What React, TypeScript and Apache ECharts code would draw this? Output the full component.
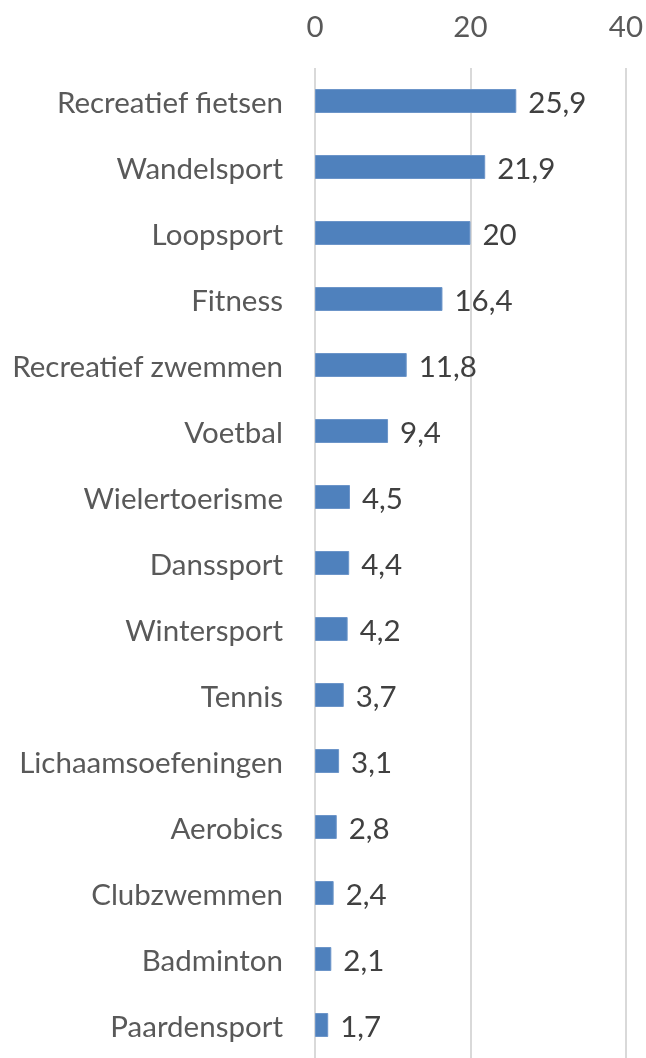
import React, { useEffect, useRef } from "react";
import * as echarts from "echarts";

const categories = [
  "Recreatief fietsen",
  "Wandelsport",
  "Loopsport",
  "Fitness",
  "Recreatief zwemmen",
  "Voetbal",
  "Wielertoerisme",
  "Danssport",
  "Wintersport",
  "Tennis",
  "Lichaamsoefeningen",
  "Aerobics",
  "Clubzwemmen",
  "Badminton",
  "Paardensport",
];
const values = [25.9, 21.9, 20, 16.4, 11.8, 9.4, 4.5, 4.4, 4.2, 3.7, 3.1, 2.8, 2.4, 2.1, 1.7];
const xTicks = [0, 20, 40];

const FONT = "Lato, 'Open Sans', sans-serif";
const FS = 29.5;

export default function App() {
  const ref = useRef<HTMLDivElement>(null);
  useEffect(() => {
    if (!ref.current) return;
    const chart = echarts.init(ref.current, null, { renderer: "svg" });
    chart.setOption({
      animation: false,
      grid: { left: 315, right: 19, top: 68, height: 992, containLabel: false },
      xAxis: {
        type: "value",
        position: "top",
        min: xTicks[0],
        max: xTicks[xTicks.length - 1],
        interval: xTicks[1] - xTicks[0],
        axisLine: { show: false },
        axisTick: { show: false },
        splitLine: { show: true, lineStyle: { color: "#D9D9D9", width: 2 } },
        axisLabel: {
          margin: 28,
          color: "#595959",
          fontSize: FS,
          fontFamily: FONT,
        },
      },
      yAxis: {
        type: "category",
        data: categories,
        inverse: true,
        axisLine: { show: false },
        axisTick: { show: false },
        axisLabel: {
          margin: 32,
          color: "#595959",
          fontSize: FS,
          fontFamily: FONT,
        },
      },
      series: [
        {
          type: "bar",
          data: values,
          barWidth: 24,
          itemStyle: { color: "#4F81BD", borderColor: "#6C95C9", borderWidth: 1 },
          label: {
            show: true,
            position: "right",
            distance: 12,
            color: "#404040",
            fontSize: FS,
            fontFamily: FONT,
            formatter: (p: any) => String(p.value).replace(".", ","),
          },
        },
      ],
    });
    return () => chart.dispose();
  }, []);
  return (
    <div
      ref={ref}
      style={{ position: "fixed", left: 0, top: 0, width: 646, height: 1058 }}
    />
  );
}
